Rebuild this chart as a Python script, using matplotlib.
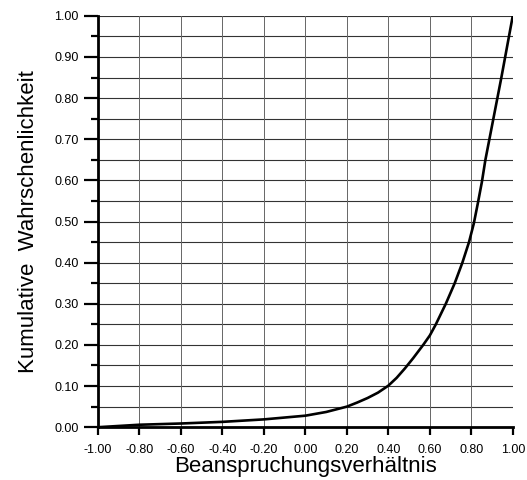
import matplotlib
matplotlib.use('Agg')

import matplotlib.pyplot as plt
import numpy as np

# values
ratio = [-1.0, -0.8, -0.6, -0.4, -0.2, 0.0, 0.1, 0.2, 0.25, 0.3, 0.35, 0.4, 0.44, 0.48,
         0.52, 0.568, 0.6, 0.629, 0.677, 0.72, 0.757, 0.789, 0.812, 0.831, 0.851,
         0.868, 0.945, 1.0]
prob = [0.0, 0.006, 0.009, 0.013, 0.019, 0.028, 0.037, 0.05, 0.06, 0.071, 0.084, 0.101,
        0.12, 0.143, 0.168, 0.20, 0.223, 0.25, 0.30, 0.35, 0.40, 0.45, 0.495, 0.543,
        0.596, 0.65, 0.85, 1.0]

x_ticks = np.round(np.arange(-1.0, 1.01, 0.2), 2) + 0.0
y_ticks = np.round(np.arange(0.0, 1.01, 0.1), 2) + 0.0
y_minor = np.round(np.arange(0.05, 1.0, 0.1), 2)

plt.rcParams['font.family'] = ['Liberation Sans', 'DejaVu Sans']

fig = plt.figure(figsize=(5.27, 4.80), dpi=100)
ax = fig.add_axes([0.186, 0.110, 0.787, 0.857])

# grid
for y in np.round(np.arange(0.05, 1.01, 0.05), 2):
    ax.axhline(y, color='#333333', lw=0.8, zorder=1)
for x in x_ticks[1:]:
    ax.axvline(x, color='#666666', lw=0.7, zorder=1)

ax.plot(ratio, prob, color='black', lw=1.9, zorder=3)

ax.set_xlim(-1.0, 1.0)
ax.set_ylim(0.0, 1.0)

ax.set_xticks(x_ticks)
ax.set_xticklabels([f"{abs(v) if abs(v) < 1e-9 else v:.2f}" for v in x_ticks])
ax.set_yticks(y_ticks)
ax.set_yticklabels([f"{v:.2f}" for v in y_ticks])
ax.set_yticks(y_minor, minor=True)

ax.tick_params(axis='y', which='major', direction='out', length=10, width=1.6, labelsize=9, pad=4)
ax.tick_params(axis='y', which='minor', direction='out', length=5, width=1.6)
ax.tick_params(axis='x', which='major', direction='out', length=6, width=1.6, labelsize=9, pad=6)

for side in ['top', 'right']:
    ax.spines[side].set_visible(False)
for side in ['left', 'bottom']:
    ax.spines[side].set_linewidth(2)
    ax.spines[side].set_zorder(4)

ax.set_xlabel('Beanspruchungsverhältnis', fontsize=16, labelpad=0)
ax.set_ylabel('Kumulative  Wahrschenlichkeit', fontsize=16, labelpad=11)

fig.savefig('out.png', dpi=100, facecolor='white')
plt.close(fig)
